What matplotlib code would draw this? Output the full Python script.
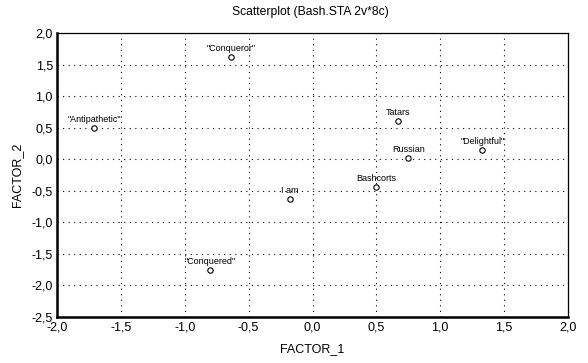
import matplotlib
matplotlib.use("Agg")
import matplotlib.pyplot as plt
from matplotlib.ticker import FuncFormatter, MultipleLocator

labels = ['"Conqueror"', '"Antipathetic"', 'Tatars', 'Russian', '"Delightful"',
          'Bashcorts', 'I am', '"Conquered"']
factor_1 = [-0.64, -1.71, 0.67, 0.75, 1.33, 0.50, -0.18, -0.80]
factor_2 = [1.62, 0.50, 0.60, 0.02, 0.15, -0.44, -0.63, -1.76]

plt.rcParams['font.family'] = ['Liberation Sans', 'DejaVu Sans']

fig = plt.figure(figsize=(5.88, 3.63), dpi=100)
ax = fig.add_axes([57/588, 1 - 317/363, (568-57)/588, (317-33)/363])

ax.scatter(factor_1, factor_2, s=15, facecolors='white', edgecolors='black',
           linewidths=0.8, zorder=3)
for x, y, t in zip(factor_1, factor_2, labels):
    ax.annotate(t, (x, y), xytext=(0, 3), textcoords='offset points',
                ha='center', va='bottom', fontsize=6.5, zorder=4)

ax.set_xlim(-2.0, 2.0)
ax.set_ylim(-2.5, 2.0)
ax.xaxis.set_major_locator(MultipleLocator(0.5))
ax.yaxis.set_major_locator(MultipleLocator(0.5))
fmt = FuncFormatter(lambda v, p: f"{v:.1f}".replace('.', ',').replace('-0,0', '0,0'))
ax.xaxis.set_major_formatter(fmt)
ax.yaxis.set_major_formatter(fmt)
ax.tick_params(length=0, labelsize=9, pad=3)
ax.grid(True, color='black', linestyle=(0, (1, 4)), linewidth=0.8)

for s in ['left', 'bottom']:
    ax.spines[s].set_linewidth(1.8)
for s in ['top', 'right']:
    ax.spines[s].set_linewidth(0.9)

ax.set_xlabel('FACTOR_1', fontsize=9, labelpad=7)
ax.set_ylabel('FACTOR_2', fontsize=9, labelpad=6)
fig.text(310/588, 1 - 12/363, 'Scatterplot (Bash.STA 2v*8c)', ha='center', va='center', fontsize=8.7)

fig.savefig('out.png', dpi=100, facecolor='white')
